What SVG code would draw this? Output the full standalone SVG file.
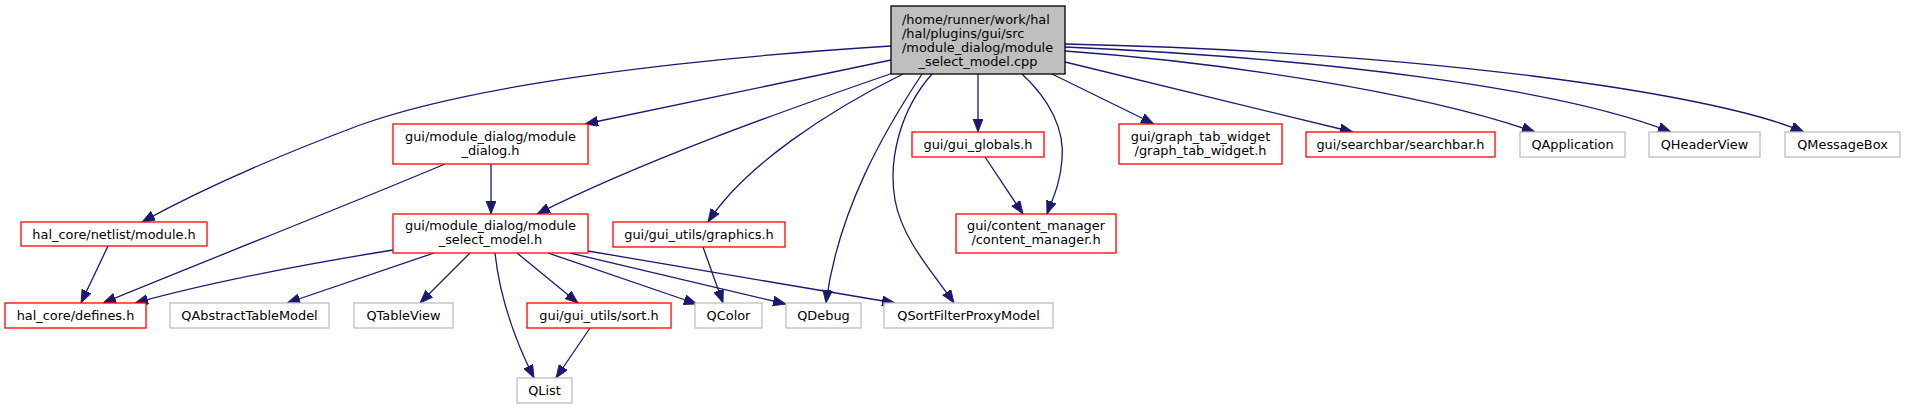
<svg xmlns="http://www.w3.org/2000/svg" width="1905" height="409" viewBox="0 0 1905 409">
<style>
  .n rect { fill: #ffffff; stroke-width: 1.3; }
  .red rect { stroke: #ff0000; }
  .gray rect { stroke: #bfbfbf; }
  .root rect { fill: #bfbfbf; stroke: #000000; }
  text { font-family: "DejaVu Sans", "Liberation Sans", sans-serif; font-size: 12.9px; fill: #000000; }
  .c { text-anchor: middle; }
  .e path { fill: none; stroke: #191970; stroke-width: 1.3; marker-end: url(#ah); }
</style>
<defs>
  <marker id="ah" markerUnits="userSpaceOnUse" markerWidth="14" markerHeight="11" refX="13" refY="5" orient="auto">
    <path d="M0,0 L13,5 L0,10 z" fill="#191970" stroke="#191970" stroke-width="0.8"/>
  </marker>
</defs>
<rect width="1905" height="409" fill="#ffffff"/>
<g id="edges" class="e">
  <path d="M891,46 C700,58 480,82 360,125 C280,155 200,190 142,222"/>
  <path d="M891,60 L585,124"/>
  <path d="M893,73 C780,112 640,162 537,214"/>
  <path d="M903,74 C830,110 745,165 708,222"/>
  <path d="M922,74 C885,130 838,210 826,303"/>
  <path d="M932,74 C900,110 888,160 895,200 C902,240 935,275 954,303"/>
  <path d="M978,74 L978,132"/>
  <path d="M1022,74 C1050,100 1065,130 1062,160 C1060,185 1052,200 1047,214"/>
  <path d="M1052,74 L1154,124"/>
  <path d="M1065,62 L1353,132"/>
  <path d="M1065,51 C1220,62 1420,92 1535,132"/>
  <path d="M1065,47 C1320,58 1560,88 1671,132"/>
  <path d="M1065,44 C1420,52 1710,92 1804,132"/>
  <path d="M491,164 L491,214"/>
  <path d="M445,164 C360,200 220,255 103,303"/>
  <path d="M108,246 L81,303"/>
  <path d="M393,250 C300,265 200,285 135,303"/>
  <path d="M434,253 L287,303"/>
  <path d="M470,253 L420,303"/>
  <path d="M495,253 C500,300 515,340 534,378"/>
  <path d="M517,253 L578,303"/>
  <path d="M548,253 L697,304"/>
  <path d="M570,253 L786,304"/>
  <path d="M588,251 L895,303"/>
  <path d="M703,247 L723,303"/>
  <path d="M590,328 L556,378"/>
  <path d="M985,157 L1023,214"/>
</g>
<g id="root" class="n root">
  <rect x="891" y="6" width="174" height="68"/>
  <text x="902" y="24">/home/runner/work/hal</text>
  <text x="902" y="38">/hal/plugins/gui/src</text>
  <text x="902" y="52">/module_dialog/module</text>
  <text class="c" x="978" y="66">_select_model.cpp</text>
</g>
<g id="module_h" class="n red">
  <rect x="21" y="222" width="186" height="24"/>
  <text class="c" x="114" y="238.5">hal_core/netlist/module.h</text>
</g>
<g id="defines_h" class="n red">
  <rect x="5" y="303" width="141" height="25"/>
  <text class="c" x="75.5" y="320">hal_core/defines.h</text>
</g>
<g id="QAbstractTableModel" class="n gray">
  <rect x="170" y="303" width="159" height="25"/>
  <text class="c" x="249.5" y="320">QAbstractTableModel</text>
</g>
<g id="QTableView" class="n gray">
  <rect x="354" y="303" width="99" height="25"/>
  <text class="c" x="403.5" y="320">QTableView</text>
</g>
<g id="sort_h" class="n red">
  <rect x="527" y="303" width="144" height="25"/>
  <text class="c" x="599" y="320">gui/gui_utils/sort.h</text>
</g>
<g id="QColor" class="n gray">
  <rect x="695" y="303" width="67" height="25"/>
  <text class="c" x="728.5" y="320">QColor</text>
</g>
<g id="QDebug" class="n gray">
  <rect x="786" y="303" width="75" height="25"/>
  <text class="c" x="823.5" y="320">QDebug</text>
</g>
<g id="QSortFilterProxyModel" class="n gray">
  <rect x="884" y="303" width="169" height="25"/>
  <text class="c" x="968.5" y="320">QSortFilterProxyModel</text>
</g>
<g id="QList" class="n gray">
  <rect x="517" y="378" width="55" height="25"/>
  <text class="c" x="544.5" y="394.5">QList</text>
</g>
<g id="module_dialog_h" class="n red">
  <rect x="393" y="124" width="195" height="40"/>
  <text class="c" x="490.5" y="140.5">gui/module_dialog/module</text>
  <text class="c" x="490.5" y="154.5">_dialog.h</text>
</g>
<g id="module_select_model_h" class="n red">
  <rect x="393" y="214" width="195" height="39"/>
  <text class="c" x="490.5" y="230">gui/module_dialog/module</text>
  <text class="c" x="490.5" y="244">_select_model.h</text>
</g>
<g id="graphics_h" class="n red">
  <rect x="613" y="222" width="172" height="25"/>
  <text class="c" x="699" y="238.5">gui/gui_utils/graphics.h</text>
</g>
<g id="gui_globals_h" class="n red">
  <rect x="912" y="132" width="132" height="25"/>
  <text class="c" x="978" y="148.5">gui/gui_globals.h</text>
</g>
<g id="content_manager_h" class="n red">
  <rect x="956" y="214" width="160" height="39"/>
  <text class="c" x="1036" y="230">gui/content_manager</text>
  <text class="c" x="1036" y="244">/content_manager.h</text>
</g>
<g id="graph_tab_widget_h" class="n red">
  <rect x="1119" y="124" width="163" height="40"/>
  <text class="c" x="1200.5" y="140.5">gui/graph_tab_widget</text>
  <text class="c" x="1200.5" y="154.5">/graph_tab_widget.h</text>
</g>
<g id="searchbar_h" class="n red">
  <rect x="1306" y="132" width="189" height="25"/>
  <text class="c" x="1400.5" y="148.5">gui/searchbar/searchbar.h</text>
</g>
<g id="QApplication" class="n gray">
  <rect x="1520" y="132" width="105" height="25"/>
  <text class="c" x="1572.5" y="148.5">QApplication</text>
</g>
<g id="QHeaderView" class="n gray">
  <rect x="1649" y="132" width="111" height="25"/>
  <text class="c" x="1704.5" y="148.5">QHeaderView</text>
</g>
<g id="QMessageBox" class="n gray">
  <rect x="1785" y="132" width="115" height="25"/>
  <text class="c" x="1842.5" y="148.5">QMessageBox</text>
</g>
</svg>
